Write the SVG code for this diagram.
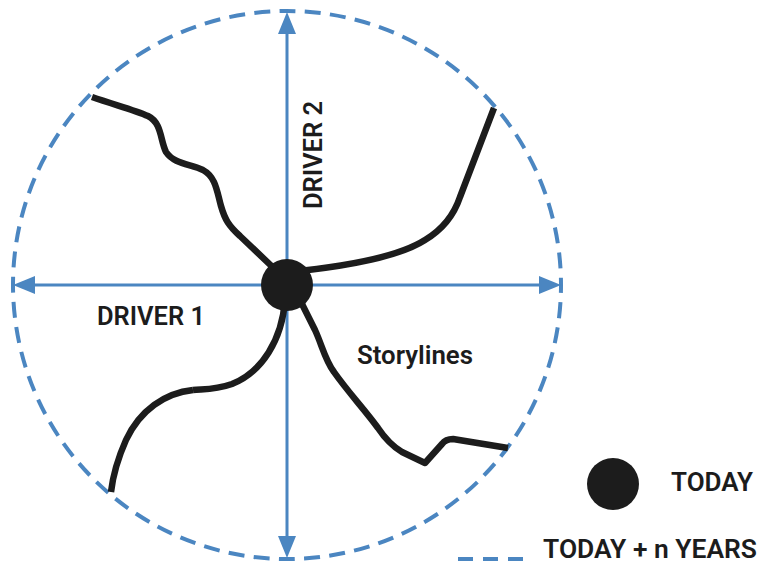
<svg xmlns="http://www.w3.org/2000/svg" width="759" height="564" viewBox="0 0 759 564">
  <style>
    .axis { stroke: #4b86c1; stroke-width: 3; fill: none; }
    .horizon { stroke: #4b86c1; stroke-width: 4; fill: none; }
    .story { stroke: #1c1c1c; stroke-width: 6.5; fill: none; stroke-linejoin: round; }
    .dot { fill: #1c1c1c; }
    .label { font-family: Roboto, "Liberation Sans", sans-serif; font-weight: 600; font-size: 25px; fill: #1c1c1c; }
  </style>
  <defs>
    <marker id="arrow" viewBox="0 0 22 18" refX="6" refY="9" markerWidth="22" markerHeight="18" markerUnits="userSpaceOnUse" orient="auto-start-reverse">
      <path d="M0,0 L22,9 L0,18 z" fill="#4b86c1"/>
    </marker>
  </defs>

  <rect width="759" height="564" fill="#ffffff"/>

  <!-- time horizon: dashed circle, path starts at the rightmost point so dashes sit on the four axis ends -->
  <g id="horizon">
    <path class="horizon" d="M561,285 A274,274 0 0 1 13,285 A274,274 0 0 1 561,285 z" stroke-dasharray="16 9.317" stroke-dashoffset="8"/>
  </g>

  <!-- driver axes -->
  <g id="connectors">
    <line id="driver1-axis" class="axis" x1="29" y1="285" x2="545" y2="285" marker-start="url(#arrow)" marker-end="url(#arrow)"/>
    <line id="driver2-axis" class="axis" x1="287" y1="28" x2="287" y2="542" marker-start="url(#arrow)" marker-end="url(#arrow)"/>

    <!-- storylines radiating from today -->
    <path id="story-nw" class="story" d="M92,97 C115,105 135,110 148,116 C162,123 160,140 166,152 C174,164 190,164 203,170 C216,177 217,192 221,206 C225,220 229,226 240,236 L282,276"/>
    <path id="story-ne" class="story" d="M290,272 C350,266 400,256 425,240 C445,228 455,212 460,197 L494,108"/>
    <path id="story-sw-a" class="story" d="M285,300 C282,340 262,372 232,384 C215,390 205,389 193,390"/>
    <path id="story-sw-b" class="story" d="M193,390 C165,393 140,410 126,440 C118,458 113,475 111,492"/>
    <path id="story-se" class="story" d="M295,290 L315,330 C322,345 325,360 334,372 C348,392 365,410 378,428 C386,440 392,446 402,452 L425,463 L442,444 C445,440 448,439 453,439 L508,448"/>
  </g>

  <g id="today">
    <circle class="dot" cx="287" cy="285" r="26"/>
  </g>

  <g id="labels">
    <text class="label" x="97" y="325" textLength="108" lengthAdjust="spacingAndGlyphs">DRIVER 1</text>
    <text class="label" transform="translate(322,209) rotate(-90)" textLength="108" lengthAdjust="spacingAndGlyphs">DRIVER 2</text>
    <text class="label" x="357" y="364" textLength="116" lengthAdjust="spacingAndGlyphs">Storylines</text>
  </g>

  <g id="legend-today">
    <circle class="dot" cx="613" cy="484" r="26"/>
    <text class="label" x="671" y="491" textLength="82" lengthAdjust="spacingAndGlyphs">TODAY</text>
  </g>

  <g id="legend-horizon">
    <line class="horizon" x1="458" y1="559" x2="523" y2="559" stroke-dasharray="15 10"/>
    <text class="label" x="543" y="558" textLength="214" lengthAdjust="spacingAndGlyphs">TODAY + n YEARS</text>
  </g>
</svg>
